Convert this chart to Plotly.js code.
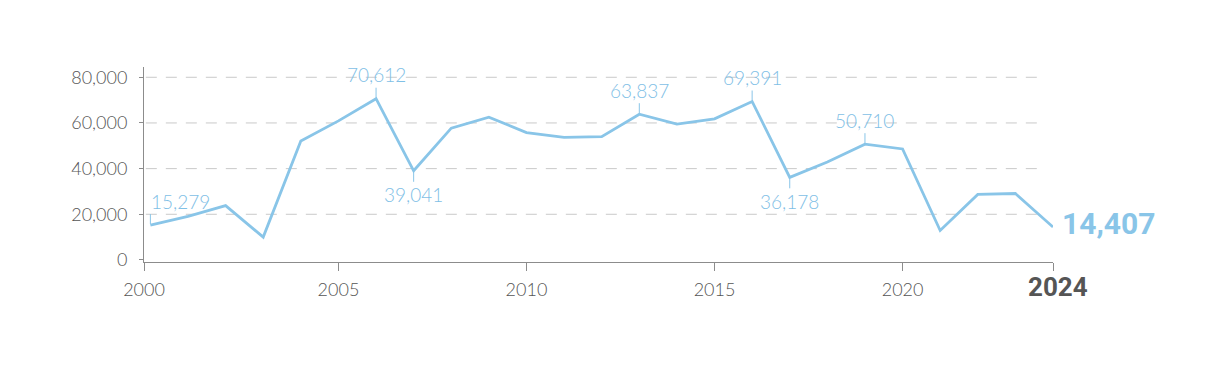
<!DOCTYPE html>
<html>
<head>
<meta charset="utf-8">
<script src="https://cdn.plot.ly/plotly-3.0.1.min.js"></script>
<style>html,body{margin:0;padding:0;background:#fff;}#chart{width:1215px;height:373px;}</style>
</head>
<body>
<div id="chart"></div>
<script>
// ---- data ----
const years = [2000, 2001, 2002, 2003, 2004, 2005, 2006, 2007, 2008, 2009, 2010, 2011, 2012,
               2013, 2014, 2015, 2016, 2017, 2018, 2019, 2020, 2021, 2022, 2023, 2024];
const values = [15279, 19100, 23800, 10000, 52100, 60900, 70612, 39041, 57700, 62500, 55800, 53700, 54000,
                63837, 59500, 61800, 69391, 36178, 42900, 50710, 48600, 12900, 28700, 29100, 14407];
const labelYears = [2000, 2006, 2007, 2013, 2016, 2017, 2019];
const labelSides = ['above-right', 'above', 'below', 'above', 'above', 'below', 'above'];
const yTickVals = [0, 20000, 40000, 60000, 80000];
const xTickYears = [2005, 2010, 2015, 2020];
const lastYear = 2024;

// ---- styles ----
const BLUE = '#89c5e8';
const BLUE_TXT = '#7fc0e6';
const GREY = '#555555';
const THIN = 'Lato, "Open Sans", sans-serif';
const BOLD = 'Roboto, "Liberation Sans", sans-serif';
const fmt = v => v.toLocaleString('en-US');

const xStart = years[0] - 0.17;

const shapes = [];
yTickVals.filter(v => v !== 0).forEach(v => {
  shapes.push({type: 'line', xref: 'paper', yref: 'y', x0: 0.002, x1: 0.987, y0: v, y1: v,
    line: {color: '#c9c9c9', width: 1, dash: '11px,9px'}, layer: 'below'});
});

const annotations = [];
labelYears.forEach((yr, i) => {
  const v = values[years.indexOf(yr)];
  const side = labelSides[i];
  const up = side !== 'below';
  shapes.push({type: 'line', xref: 'x', yref: 'y', ysizemode: 'pixel', yanchor: v,
    x0: yr, x1: yr, y0: up ? 1 : -1, y1: up ? 11 : -11,
    line: {color: BLUE, width: 1}});
  annotations.push({x: yr, y: v, xref: 'x', yref: 'y', text: fmt(v), showarrow: false,
    xanchor: side === 'above-right' ? 'left' : 'center', yanchor: 'middle',
    xshift: side === 'above-right' ? -1 : 0, yshift: up ? 24 : -24,
    font: {family: THIN, size: 19, color: BLUE_TXT, weight: 300}});
});
// end value label
annotations.push({x: lastYear, y: values[values.length - 1], xref: 'x', yref: 'y',
  text: '<b>' + fmt(values[values.length - 1]) + '</b>', showarrow: false,
  xanchor: 'left', yanchor: 'middle', xshift: 7, yshift: 4,
  font: {family: BOLD, size: 30, color: BLUE}});
// last year label
annotations.push({x: lastYear, y: 0, xref: 'x', yref: 'paper', text: '<b>' + lastYear + '</b>',
  showarrow: false, xanchor: 'center', yanchor: 'middle', xshift: 5, yshift: -25,
  font: {family: BOLD, size: 26, color: '#555555'}});

const trace = {
  x: years, y: values, type: 'scatter', mode: 'lines',
  line: {color: BLUE, width: 2.8}, hoverinfo: 'skip'
};

const layout = {
  width: 1215, height: 373,
  margin: {l: 143.5, r: 162, t: 67, b: 111, pad: 0},
  paper_bgcolor: '#fff', plot_bgcolor: '#fff',
  showlegend: false,
  xaxis: {
    range: [xStart, lastYear], showgrid: false, zeroline: false,
    showline: true, linecolor: '#8c8c8c', linewidth: 1,
    ticks: 'outside', ticklen: 8, tickcolor: '#8c8c8c', tickwidth: 1,
    tickvals: [xStart].concat(xTickYears, [lastYear]),
    ticktext: [String(years[0])].concat(xTickYears.map(String), ['']),
    tickfont: {family: THIN, size: 18, color: GREY, weight: 300},
    ticklabelstandoff: 3
  },
  yaxis: {
    range: [-900, 84500], showgrid: false, zeroline: false,
    showline: true, linecolor: '#8c8c8c', linewidth: 1,
    ticks: 'outside', ticklen: 4, tickcolor: '#8c8c8c', tickwidth: 1,
    tickvals: yTickVals, tickformat: ',d',
    tickfont: {family: THIN, size: 18, color: GREY, weight: 300},
    ticklabelstandoff: 8
  },
  shapes: shapes,
  annotations: annotations
};

Plotly.newPlot('chart', [trace], layout, {displayModeBar: false, staticPlot: true});
</script>
</body>
</html>
